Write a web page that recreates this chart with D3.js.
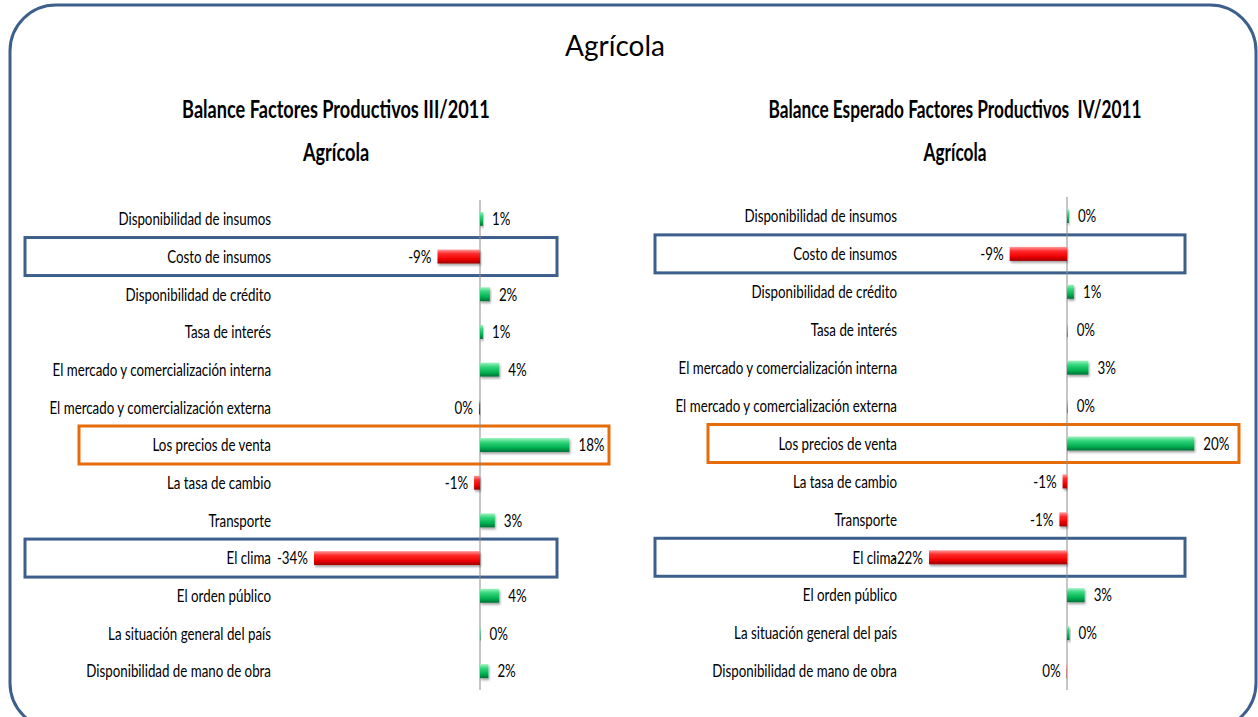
<!DOCTYPE html>
<html>
<head>
<meta charset="utf-8">
<script src="https://cdn.jsdelivr.net/npm/d3@7"></script>
<style>
  body { margin: 0; background: #fff; }
  svg text { font-family: Lato, "Open Sans", sans-serif; fill: #000; white-space: pre; }
</style>
</head>
<body>
<div id="chart"></div>
<script>
// Categories (same order in both panels)
var categories = [
    'Disponibilidad de insumos',
    'Costo de insumos',
    'Disponibilidad de crédito',
    'Tasa de interés',
    'El mercado y comercialización interna',
    'El mercado y comercialización externa',
    'Los precios de venta',
    'La tasa de cambio',
    'Transporte',
    'El clima',
    'El orden público',
    'La situación general del país',
    'Disponibilidad de mano de obra'
];

// Balance III/2011 (%)
var balanceQ3 = [0.6, -8.6, 2.0, 0.6, 3.9, -0.2, 18.1, -1.2, 3.0, -33.6, 3.9, 0.1, 1.7];
// Expected balance IV/2011 (%)
var balanceQ4 = [0.3, -9.1, 1.1, 0.1, 3.4, 0.1, 20.2, -0.7, -1.2, -21.9, 2.8, 0.4, -0.05];

var mainTitle = 'Agrícola';
var titlesQ3 = ['Balance Factores Productivos III/2011', 'Agrícola'];
var titlesQ4 = ['Balance Esperado Factores Productivos  IV/2011', 'Agrícola'];

// Highlighted categories
var highlightBlue = ['Costo de insumos', 'El clima'];
var highlightOrange = ['Los precios de venta'];

var width = 1258,
    height = 717,
    squeeze = 0.74,   // Calibri-ish narrow look
    blue = '#3d5f8c',
    orange = '#e46c0a';

var svg = d3.select('#chart').append('svg')
    .attr('width', width)
    .attr('height', height);

var defs = svg.append('defs');

function addGradient(id, stops) {
    var g = defs.append('linearGradient')
        .attr('id', id)
        .attr('x1', 0).attr('y1', 0).attr('x2', 0).attr('y2', 1);
    stops.forEach(function(s) {
        g.append('stop').attr('offset', s[0]).attr('stop-color', s[1]);
    });
}
addGradient('grad-pos', [['0%', '#9ff2c0'], ['30%', '#33d67c'], ['70%', '#00b050'], ['100%', '#00703a']]);
addGradient('grad-neg', [['0%', '#ff9c9c'], ['30%', '#ff2a2a'], ['70%', '#ee0000'], ['100%', '#9a0000']]);

var shadow = defs.append('filter').attr('id', 'shadow')
    .attr('x', '-20%').attr('y', '-30%').attr('width', '140%').attr('height', '180%');
shadow.append('feDropShadow')
    .attr('dx', 1).attr('dy', 2).attr('stdDeviation', 1)
    .attr('flood-color', '#000').attr('flood-opacity', 0.35);

// make text narrow by shrinking its measured length
function condense(sel, k) {
    sel.each(function() {
        var w = this.getComputedTextLength();
        d3.select(this).attr('textLength', w * k).attr('lengthAdjust', 'spacingAndGlyphs');
    });
}

// outer rounded frame
svg.append('rect')
    .attr('x', 10).attr('y', 5)
    .attr('width', 1246).attr('height', 724)
    .attr('rx', 46).attr('ry', 46)
    .attr('fill', 'none')
    .attr('stroke', blue)
    .attr('stroke-width', 3);

svg.append('text')
    .attr('x', 615).attr('y', 56)
    .attr('text-anchor', 'middle')
    .style('font-size', '28px')
    .text(mainTitle);

var fmt = function(v) { return Math.round(v) + '%'; };

function drawPanel(cfg) {
    var g = svg.append('g');

    var x = d3.scaleLinear().domain(cfg.domain).range(cfg.xRange);
    var y = d3.scaleBand().domain(categories).range(cfg.yRange).paddingInner(0.63).paddingOuter(0.315);
    var zero = x(0);

    // titles
    g.selectAll('text.title').data(cfg.titles).enter()
        .append('text')
        .attr('class', 'title')
        .attr('x', cfg.titleX)
        .attr('y', function(d, i) { return 118 + i * 43; })
        .attr('text-anchor', 'middle')
        .style('font-size', '25px')
        .style('font-weight', 'bold')
        .text(function(d) { return d; })
        .call(condense, cfg.titleSqueeze);

    // highlight boxes
    var boxes = highlightBlue.map(function(c) { return {cat: c, color: blue, x0: cfg.blueBox[0], x1: cfg.blueBox[1]}; })
        .concat(highlightOrange.map(function(c) { return {cat: c, color: orange, x0: cfg.orangeBox[0], x1: cfg.orangeBox[1]}; }));
    g.selectAll('rect.box').data(boxes).enter()
        .append('rect')
        .attr('class', 'box')
        .attr('x', function(d) { return d.x0; })
        .attr('y', function(d) { return y(d.cat) + y.bandwidth() / 2 - 19; })
        .attr('width', function(d) { return d.x1 - d.x0; })
        .attr('height', 38)
        .attr('fill', 'none')
        .attr('stroke', function(d) { return d.color; })
        .attr('stroke-width', 3);

    // zero axis
    g.append('line')
        .attr('x1', zero).attr('x2', zero)
        .attr('y1', cfg.yRange[0]).attr('y2', cfg.yRange[1])
        .attr('stroke', '#8c8c8c')
        .attr('stroke-width', 1);

    // category labels
    g.selectAll('text.cat').data(categories).enter()
        .append('text')
        .attr('class', 'cat')
        .attr('x', cfg.labelX)
        .attr('y', function(d) { return y(d) + y.bandwidth() / 2; })
        .attr('dy', '0.35em')
        .attr('text-anchor', 'end')
        .style('font-size', '18px')
        .text(function(d) { return d; })
        .call(condense, squeeze);

    var data = cfg.values.map(function(v, i) { return {cat: categories[i], v: v}; });

    // bars
    g.selectAll('rect.bar').data(data).enter()
        .append('rect')
        .attr('class', 'bar')
        .attr('x', function(d) { return Math.min(x(d.v), zero); })
        .attr('y', function(d) { return y(d.cat); })
        .attr('width', function(d) { return Math.abs(x(d.v) - zero); })
        .attr('height', y.bandwidth())
        .attr('fill', function(d) { return d.v < 0 ? 'url(#grad-neg)' : 'url(#grad-pos)'; })
        .attr('filter', 'url(#shadow)');

    // value labels
    g.selectAll('text.val').data(data).enter()
        .append('text')
        .attr('class', 'val')
        .attr('x', function(d) { return d.v < 0 ? x(d.v) - 6 : x(d.v) + 9; })
        .attr('y', function(d) { return y(d.cat) + y.bandwidth() / 2; })
        .attr('dy', '0.35em')
        .attr('text-anchor', function(d) { return d.v < 0 ? 'end' : 'start'; })
        .style('font-size', '18px')
        .text(function(d) { return fmt(d.v); })
        .call(condense, squeeze);
}

drawPanel({
    values: balanceQ3,
    titles: titlesQ3,
    titleX: 336,
    titleSqueeze: 0.725,
    domain: [-40, 20],
    xRange: [282.4, 578.8],
    yRange: [200, 690],
    labelX: 271,
    blueBox: [25, 557],
    orangeBox: [79, 609]
});

drawPanel({
    values: balanceQ4,
    titles: titlesQ4,
    titleX: 955,
    titleSqueeze: 0.69,
    domain: [-25, 25],
    xRange: [909.5, 1224.5],
    yRange: [197, 690],
    labelX: 897,
    blueBox: [655, 1185],
    orangeBox: [708, 1239]
});
</script>
</body>
</html>
